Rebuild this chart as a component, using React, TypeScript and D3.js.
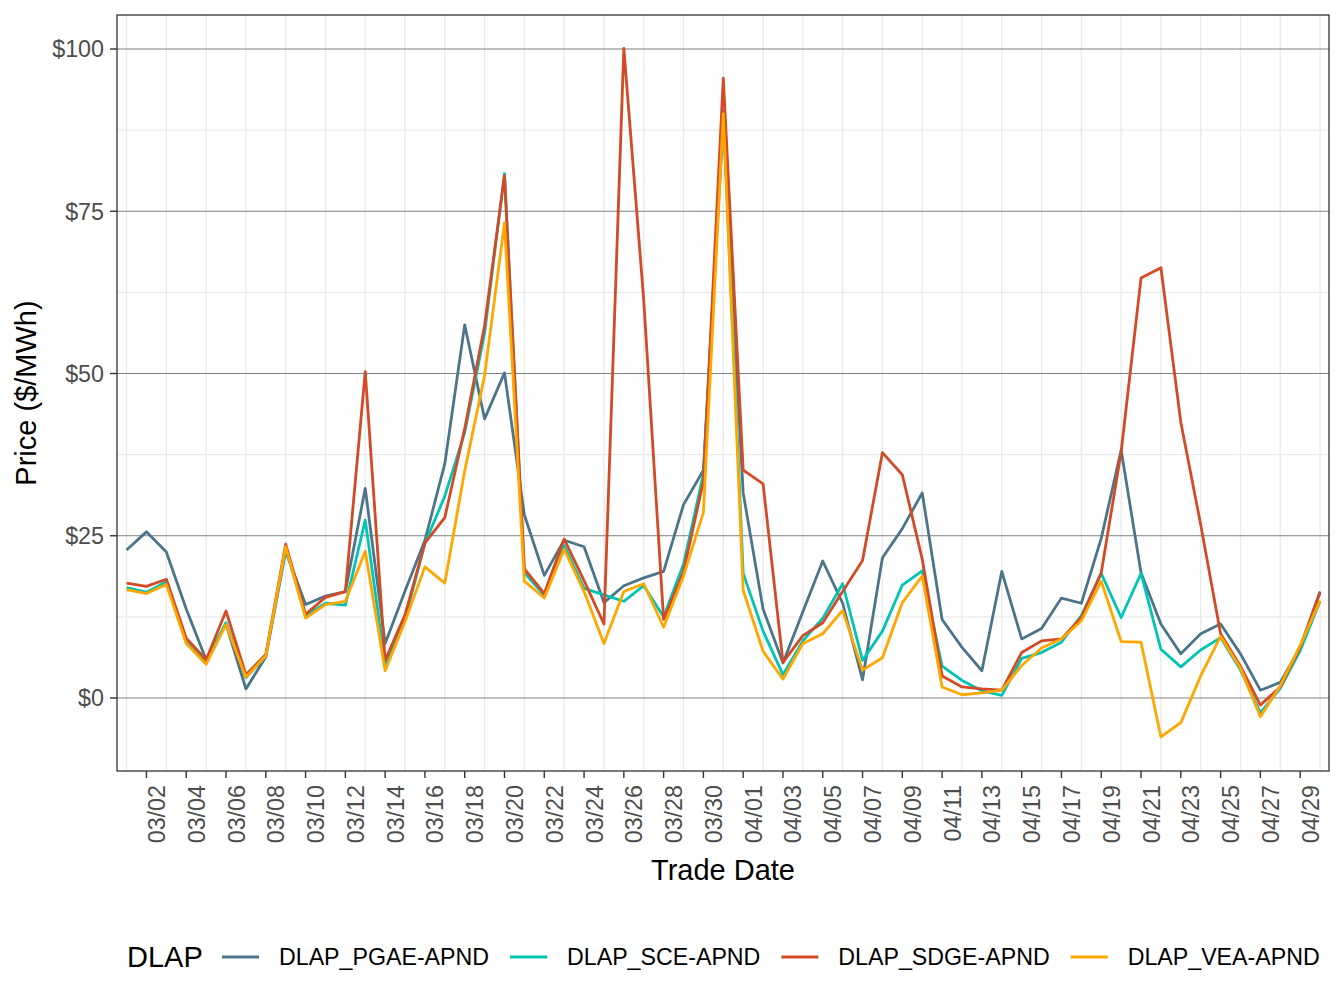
import React, { useEffect, useRef } from 'react';
import * as d3 from 'd3';

// trade dates 03/01 .. 04/30
const startDate = new Date(Date.UTC(2023, 2, 1));
const tradeDates: Date[] = d3.utcDay.range(startDate, new Date(Date.UTC(2023, 4, 1)));

const seriesNames = ['DLAP_PGAE-APND', 'DLAP_SCE-APND', 'DLAP_SDGE-APND', 'DLAP_VEA-APND'];
const seriesColors = ['#4D7589', '#00C4B4', '#D34A24', '#FFA600'];

const pgae = [
  22.8, 25.6, 22.5, 13.7, 5.9, 11.4, 1.4, 6.3, 22.6, 14.4, 15.7, 16.4, 32.3, 8.4, 16.5, 24.3,
  36.1, 57.5, 43.0, 50.1, 28.2, 18.9, 24.3, 23.3, 14.7, 17.3, 18.5, 19.5, 29.8, 35.1, 89.0,
  31.6, 13.7, 5.4, 13.3, 21.1, 14.6, 2.8, 21.6, 26.1, 31.6, 12.1, 7.8, 4.2, 19.5, 9.1, 10.7,
  15.4, 14.6, 24.6, 38.2, 19.3, 11.4, 6.8, 9.9, 11.4, 6.8, 1.2, 2.4, 7.8, 16.4
];
const sce = [
  17.0, 16.3, 17.9, 8.6, 5.5, 11.6, 3.1, 6.5, 23.0, 12.7, 14.6, 14.3, 27.4, 5.2, 12.2, 23.8,
  31.1, 40.9, 56.2, 80.8, 19.3, 15.8, 23.5, 16.9, 15.9, 14.9, 17.3, 12.5, 20.6, 34.5, 90.5,
  19.2, 10.3, 3.6, 8.8, 12.3, 17.6, 5.8, 10.3, 17.4, 19.6, 4.9, 2.7, 1.1, 0.4, 6.1, 7.0,
  8.6, 12.7, 19.2, 12.4, 19.2, 7.5, 4.8, 7.4, 9.3, 4.3, -2.3, 1.5, 7.3, 14.9
];
const sdge = [
  17.7, 17.2, 18.3, 9.2, 5.9, 13.4, 3.6, 6.7, 23.7, 12.9, 15.5, 16.4, 50.3, 5.8, 12.8, 23.9,
  27.8, 41.5, 57.4, 80.5, 19.9, 16.1, 24.5, 18.1, 11.4, 100.1, 61.3, 12.1, 19.5, 33.4, 95.5,
  35.1, 33.0, 5.5, 9.6, 11.6, 16.4, 21.2, 37.8, 34.4, 21.4, 3.4, 1.7, 1.4, 1.2, 7.0, 8.8,
  9.1, 12.4, 19.3, 37.9, 64.7, 66.3, 42.5, 26.7, 9.9, 4.9, -1.1, 1.7, 7.8, 16.2
];
const vea = [
  16.7, 16.1, 17.5, 8.4, 5.2, 11.3, 3.2, 6.5, 23.3, 12.3, 14.4, 14.9, 22.6, 4.2, 11.8, 20.2,
  17.7, 35.0, 49.7, 73.2, 18.0, 15.4, 22.9, 16.4, 8.4, 16.4, 17.6, 10.9, 18.8, 28.6, 90.0,
  16.6, 7.2, 2.9, 8.4, 9.9, 13.5, 4.3, 6.2, 14.7, 18.8, 1.7, 0.5, 0.8, 1.2, 5.0, 7.7,
  9.1, 11.9, 18.0, 8.7, 8.6, -6.0, -3.8, 3.4, 9.5, 4.6, -2.9, 1.9, 8.1, 15.0
];
const seriesValues = [pgae, sce, sdge, vea];

const yTicks = [0, 25, 50, 75, 100];
const yMinorTicks = [12.5, 37.5, 62.5, 87.5];

const FONT = '"Liberation Sans", Arial, Helvetica, sans-serif';

export default function App() {
  const svgRef = useRef<SVGSVGElement | null>(null);

  useEffect(() => {
    document.body.style.margin = '0';
    const svg = d3.select(svgRef.current);
    svg.selectAll('*').remove();

    const margin = { left: 117, right: 15, top: 15, bottom: 237 };
    const width = 1344;
    const height = 1008;
    const panelRight = width - margin.right;
    const panelBottom = height - margin.bottom;

    const dayMs = 24 * 3600 * 1000;
    const first = tradeDates[0];
    const last = tradeDates[tradeDates.length - 1];
    const xScale = d3.scaleUtc()
      .domain([new Date(+first - 0.48 * dayMs), new Date(+last + 0.45 * dayMs)])
      .range([margin.left, panelRight]);
    const yScale = d3.scaleLinear().domain([-11.25, 105.24]).range([panelBottom, margin.top]);

    const xTicks = d3.utcDay.range(new Date(+first + dayMs), new Date(+last + dayMs), 2);
    const xGrid = d3.utcDay.range(first, new Date(+last + dayMs), 2);

    // panel background + grid
    svg.append('rect')
      .attr('x', margin.left).attr('y', margin.top)
      .attr('width', panelRight - margin.left).attr('height', panelBottom - margin.top)
      .attr('fill', '#ffffff');

    const grid = svg.append('g');
    grid.selectAll('.vgrid').data(xGrid).enter().append('line')
      .attr('x1', (d) => xScale(d)).attr('x2', (d) => xScale(d))
      .attr('y1', margin.top).attr('y2', panelBottom)
      .attr('stroke', '#EBEBEB').attr('stroke-width', 1.4);
    grid.selectAll('.hminor').data(yMinorTicks).enter().append('line')
      .attr('x1', margin.left).attr('x2', panelRight)
      .attr('y1', (d) => yScale(d)).attr('y2', (d) => yScale(d))
      .attr('stroke', '#EBEBEB').attr('stroke-width', 1.4);
    grid.selectAll('.hmajor').data(yTicks).enter().append('line')
      .attr('x1', margin.left).attr('x2', panelRight)
      .attr('y1', (d) => yScale(d)).attr('y2', (d) => yScale(d))
      .attr('stroke', '#7F7F7F').attr('stroke-width', 1);

    // series lines
    const line = d3.line<number>()
      .x((d, i) => xScale(tradeDates[i]))
      .y((d) => yScale(d));

    svg.append('g').selectAll('path').data(seriesValues).enter().append('path')
      .attr('d', (d) => line(d))
      .attr('fill', 'none')
      .attr('stroke', (d, i) => seriesColors[i])
      .attr('stroke-width', 2.8)
      .attr('stroke-linejoin', 'round')
      .attr('stroke-linecap', 'butt');

    // panel border
    svg.append('rect')
      .attr('x', margin.left).attr('y', margin.top)
      .attr('width', panelRight - margin.left).attr('height', panelBottom - margin.top)
      .attr('fill', 'none').attr('stroke', '#333333').attr('stroke-width', 1.3);

    // y axis
    const yAxis = svg.append('g');
    yAxis.selectAll('line').data(yTicks).enter().append('line')
      .attr('x1', margin.left - 7).attr('x2', margin.left)
      .attr('y1', (d) => yScale(d)).attr('y2', (d) => yScale(d))
      .attr('stroke', '#333333').attr('stroke-width', 1.4);
    yAxis.selectAll('text').data(yTicks).enter().append('text')
      .attr('x', margin.left - 13)
      .attr('y', (d) => yScale(d) + 8.4)
      .attr('text-anchor', 'end')
      .attr('font-family', FONT).attr('font-size', 23.3).attr('fill', '#4D4D4D')
      .text((d) => '$' + d);

    // x axis
    const fmt = d3.utcFormat('%m/%d');
    const xAxis = svg.append('g');
    xAxis.selectAll('line').data(xTicks).enter().append('line')
      .attr('x1', (d) => xScale(d)).attr('x2', (d) => xScale(d))
      .attr('y1', panelBottom).attr('y2', panelBottom + 7)
      .attr('stroke', '#333333').attr('stroke-width', 1.4);
    xAxis.selectAll('text').data(xTicks).enter().append('text')
      .attr('transform', (d) => `translate(${xScale(d) + 18.5}, ${panelBottom + 14}) rotate(-90)`)
      .attr('text-anchor', 'end')
      .attr('font-family', FONT).attr('font-size', 23.3).attr('fill', '#4D4D4D')
      .text((d) => fmt(d));

    // axis titles
    svg.append('text')
      .attr('x', (margin.left + panelRight) / 2).attr('y', 880)
      .attr('text-anchor', 'middle')
      .attr('font-family', FONT).attr('font-size', 29).attr('fill', '#000000')
      .text('Trade Date');
    svg.append('text')
      .attr('transform', `translate(36, ${(margin.top + panelBottom) / 2}) rotate(-90)`)
      .attr('text-anchor', 'middle')
      .attr('font-family', FONT).attr('font-size', 29).attr('fill', '#000000')
      .text('Price ($/MWh)');

    // legend
    const legendY = 957;
    const legend = svg.append('g');
    legend.append('text')
      .attr('x', 127).attr('y', legendY + 10.4)
      .attr('font-family', FONT).attr('font-size', 29).attr('fill', '#000000')
      .text('DLAP');
    let cursor = 222;
    seriesNames.forEach((name, i) => {
      legend.append('line')
        .attr('x1', cursor).attr('x2', cursor + 37)
        .attr('y1', legendY).attr('y2', legendY)
        .attr('stroke', seriesColors[i]).attr('stroke-width', 2.8);
      const label = legend.append('text')
        .attr('x', cursor + 57).attr('y', legendY + 8.4)
        .attr('font-family', FONT).attr('font-size', 23.2).attr('fill', '#000000')
        .text(name);
      const w = (label.node() as SVGTextElement).getComputedTextLength();
      cursor = cursor + 57 + w + 21;
    });
  }, []);

  return <svg ref={svgRef} width={1344} height={1008} style={{ display: 'block', background: '#ffffff' }} />;
}
